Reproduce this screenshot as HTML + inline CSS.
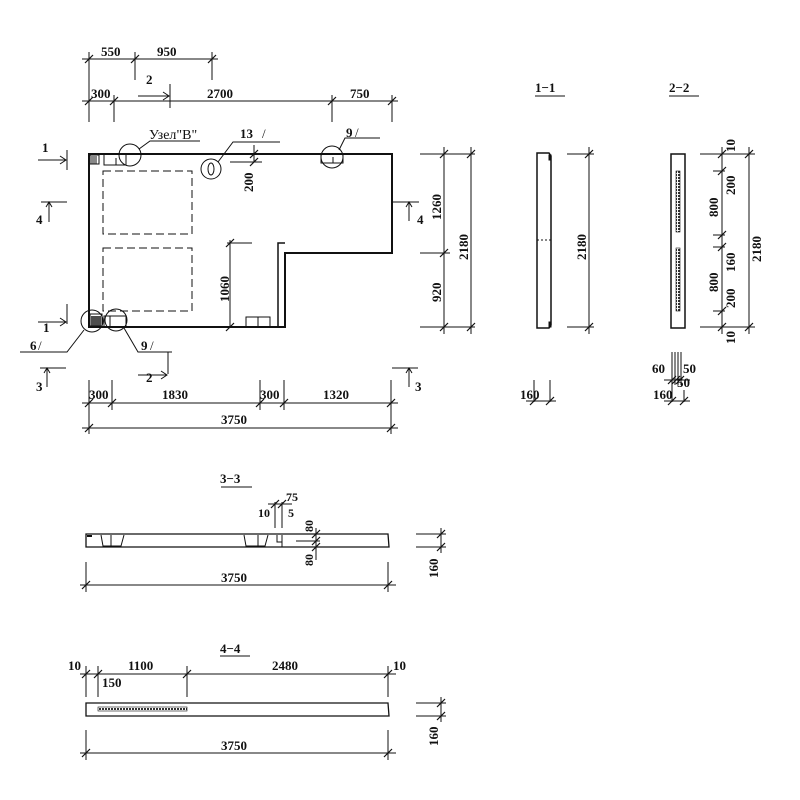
<!DOCTYPE html>
<html><head><meta charset="utf-8"><style>
html,body{margin:0;padding:0;background:#fff}
svg{display:block}
text{font-family:"Liberation Serif","DejaVu Serif",serif;font-weight:bold;font-size:13px;fill:#111}
</style></head><body>
<svg width="800" height="800" viewBox="0 0 800 800" xmlns="http://www.w3.org/2000/svg">
<defs>
<path id="t" d="M-4 4 L4 -4" stroke="#111" stroke-width="1.2"/>
<pattern id="h" width="3" height="3" patternUnits="userSpaceOnUse"><rect width="3" height="3" fill="#fff"/><rect width="2" height="2" fill="#333"/></pattern>
</defs>
<g stroke="#111" fill="none" stroke-width="1">
<path d="M89 154 H392 V253 H285 V327 H89 Z" stroke-width="2"/>
<path d="M278 327 V243 H285" stroke-width="1.5"/>
<rect x="103" y="171" width="89" height="63" stroke-dasharray="8,4"/>
<rect x="103" y="248" width="89" height="63" stroke-dasharray="8,4"/>
<rect x="90" y="155" width="9" height="9"/>
<path d="M92 156 V164 M94 156 V164 M96 156 V164"/>
<path d="M104 155 V165 H126 V155 M116 158 V165"/>
<circle cx="130" cy="155" r="11"/>
<path d="M139 149 L150 141 H200"/>
<circle cx="211" cy="169" r="10"/>
<ellipse cx="211" cy="169" rx="3" ry="6"/>
<path d="M218 162 L233 142 H280"/>
<path d="M321 155 V163 H343 V155 M333 157 V163"/>
<circle cx="332" cy="157" r="11"/>
<path d="M339 150 L345 138 H380"/>
<path d="M254 145 V162 M230 162 H262"/>
<rect x="90" y="314" width="12" height="12"/>
<path d="M92 316 V326 M94 316 V326 M96 316 V326 M98 316 V326 M100 316 V326" stroke-width="1.5"/>
<path d="M104 327 V316 H126 V327 M110 316 V326"/>
<circle cx="92" cy="321" r="11"/>
<circle cx="116" cy="320" r="11"/>
<path d="M84 330 L67 352 H20"/>
<path d="M124 328 L138 352 H172"/>
<path d="M246 327 V317 H270 V327 M258 317 V327"/>
<path d="M230 240 V327 M227 243 H252"/>
<path d="M67 150 V170 M38 160 H66 M60 156 L66 160 L60 164"/>
<path d="M67 304 V324 M38 322 H66 M60 318 L66 322 L60 326"/>
<path d="M41 202 H67 M49 202 V222 M46 207 L49 202 L52 207"/>
<path d="M393 202 H419 M409 202 V221 M406 207 L409 202 L412 207"/>
<path d="M40 368 H66 M47 368 V387 M44 373 L47 368 L50 373"/>
<path d="M392 368 H418 M409 368 V387 M406 373 L409 368 L412 373"/>
<path d="M170 84 V108 M138 96 H169 M163 92 L169 96 L163 100"/>
<path d="M168 352 V374 M138 375 H167 M161 371 L167 375 L161 379"/>
<path d="M82 59 H218 M89 52 V108 M135 52 V80 M212 52 V80"/>
<path d="M82 101 H398 M89 95 V122 M114 95 V122 M170 95 V108 M332 95 V122 M392 95 V122"/>
<path d="M420 154 H475 M420 253 H450 M420 327 H475 M444 147 V334 M471 147 V334"/>
<path d="M82 403 H398 M89 380 V434 M112 380 V410 M260 380 V410 M284 380 V410 M391 380 V434"/>
<path d="M82 428 H398"/>
<path d="M537 153 H549 L551 156 V325 L549 328 H537 Z" stroke-width="1.5"/>
<path d="M549 155 H551 V160 H549 Z M549 322 H551 V327 H549 Z" fill="#111"/>
<path d="M537 240 H551" stroke-dasharray="2,2"/>
<path d="M567 154 H594 M567 327 H594 M589 147 V334"/>
<path d="M534 380 V402 M550 380 V402 M526 401 H556"/>
<path d="M535 96 H565"/>
<rect x="671" y="154" width="14" height="174" stroke-width="1.5"/>
<rect x="676" y="171" width="4" height="61" fill="url(#h)" stroke-width="0.6"/>
<rect x="676" y="248" width="4" height="63" fill="url(#h)" stroke-width="0.6"/>
<path d="M700 154 H755 M700 327 H755 M713 171 H725 M713 235 H725 M713 247 H725 M713 311 H725"/>
<path d="M722 147 V334 M749 147 V334"/>
<path d="M669 96 H699"/>
<path d="M672 352 V402 M675 352 V385 M678 352 V385 M681 352 V385 M664 380 H690 M664 401 H690 M684 390 V402"/>
<path d="M86 534 H388 L389 547 H86 Z" stroke-width="1.3"/>
<path d="M87 536 H92" stroke-width="2"/>
<path d="M101 535 L103 546 H121 L124 535 M111 535 V546"/>
<path d="M244 535 L246 546 H265 L268 535 M258 535 V546 M277 535 V542 H282"/>
<path d="M282 535 V547"/>
<path d="M275 502 V528 M282 502 V528 M268 504 H292"/>
<path d="M296 541 H320 M316 528 V560"/>
<path d="M416 534 H446 M416 547 H446 M441 528 V553"/>
<path d="M86 562 V592 M388 562 V592 M80 585 H396"/>
<path d="M221 487 H252"/>
<path d="M86 703 H388 L389 716 H86 Z" stroke-width="1.3"/>
<rect x="98" y="707" width="89" height="4" fill="url(#h)" stroke-width="0.6"/>
<path d="M80 674 H396 M86 666 V697 M98 666 V697 M187 666 V697 M388 666 V697"/>
<path d="M416 703 H446 M416 716 H446 M441 697 V722"/>
<path d="M86 730 V760 M388 730 V760 M80 753 H396"/>
<path d="M220 656 H250"/>
</g>
<g>
<use href="#t" x="89" y="59"/><use href="#t" x="135" y="59"/><use href="#t" x="212" y="59"/>
<use href="#t" x="89" y="101"/><use href="#t" x="114" y="101"/><use href="#t" x="332" y="101"/><use href="#t" x="392" y="101"/>
<use href="#t" x="444" y="154"/><use href="#t" x="444" y="253"/><use href="#t" x="444" y="327"/>
<use href="#t" x="471" y="154"/><use href="#t" x="471" y="327"/>
<use href="#t" x="254" y="154"/><use href="#t" x="254" y="162"/>
<use href="#t" x="230" y="243"/><use href="#t" x="230" y="327"/>
<use href="#t" x="89" y="403"/><use href="#t" x="112" y="403"/><use href="#t" x="260" y="403"/><use href="#t" x="284" y="403"/><use href="#t" x="391" y="403"/>
<use href="#t" x="89" y="428"/><use href="#t" x="391" y="428"/>
<use href="#t" x="589" y="154"/><use href="#t" x="589" y="327"/>
<use href="#t" x="534" y="401"/><use href="#t" x="550" y="401"/>
<use href="#t" x="722" y="154"/><use href="#t" x="722" y="171"/><use href="#t" x="722" y="235"/><use href="#t" x="722" y="247"/><use href="#t" x="722" y="311"/><use href="#t" x="722" y="327"/>
<use href="#t" x="749" y="154"/><use href="#t" x="749" y="327"/>
<use href="#t" x="672" y="380"/><use href="#t" x="676" y="380"/><use href="#t" x="680" y="380"/>
<use href="#t" x="672" y="401"/><use href="#t" x="684" y="401"/>
<use href="#t" x="275" y="504"/><use href="#t" x="282" y="504"/>
<use href="#t" x="316" y="534"/><use href="#t" x="316" y="541"/><use href="#t" x="316" y="547"/>
<use href="#t" x="441" y="534"/><use href="#t" x="441" y="547"/>
<use href="#t" x="86" y="585"/><use href="#t" x="388" y="585"/>
<use href="#t" x="86" y="674"/><use href="#t" x="98" y="674"/><use href="#t" x="187" y="674"/><use href="#t" x="388" y="674"/>
<use href="#t" x="441" y="703"/><use href="#t" x="441" y="716"/>
<use href="#t" x="86" y="753"/><use href="#t" x="388" y="753"/>
</g>
<g>
<text x="101" y="56">550</text><text x="157" y="56">950</text>
<text x="146" y="84">2</text>
<text x="91" y="98">300</text><text x="207" y="98">2700</text><text x="350" y="98">750</text>
<text x="149" y="139" style="font-weight:normal;font-size:14px">Узел"В"</text>
<text x="240" y="138">13</text><text x="262" y="138" style="font-weight:normal">/</text>
<text x="346" y="137">9</text><text x="355" y="137" style="font-weight:normal">/</text>
<text x="42" y="152">1</text>
<text x="36" y="224">4</text>
<text x="417" y="224">4</text>
<text x="43" y="332">1</text>
<text x="30" y="350">6</text><text x="38" y="350" style="font-weight:normal">/</text>
<text x="141" y="350">9</text><text x="150" y="350" style="font-weight:normal">/</text>
<text x="36" y="391">3</text>
<text x="415" y="391">3</text>
<text x="146" y="382">2</text>
<text x="89" y="399">300</text><text x="162" y="399">1830</text><text x="260" y="399">300</text><text x="323" y="399">1320</text>
<text x="221" y="424">3750</text>
<text transform="translate(253 192) rotate(-90)">200</text>
<text transform="translate(229 302) rotate(-90)">1060</text>
<text transform="translate(441 220) rotate(-90)">1260</text>
<text transform="translate(441 302) rotate(-90)">920</text>
<text transform="translate(468 260) rotate(-90)">2180</text>
<text x="535" y="92">1−1</text>
<text x="669" y="92">2−2</text>
<text transform="translate(586 260) rotate(-90)">2180</text>
<text x="520" y="399">160</text>
<text transform="translate(735 152) rotate(-90)">10</text>
<text transform="translate(735 195) rotate(-90)">200</text>
<text transform="translate(718 217) rotate(-90)">800</text>
<text transform="translate(735 272) rotate(-90)">160</text>
<text transform="translate(761 262) rotate(-90)">2180</text>
<text transform="translate(718 292) rotate(-90)">800</text>
<text transform="translate(735 308) rotate(-90)">200</text>
<text transform="translate(735 344) rotate(-90)">10</text>
<text x="652" y="373">60</text><text x="683" y="373">50</text><text x="677" y="387">50</text>
<text x="653" y="399">160</text>
<text x="220" y="483">3−3</text>
<text x="286" y="501" style="font-size:12px">75</text>
<text x="258" y="517" style="font-size:12px">10</text>
<text x="288" y="517" style="font-size:12px">5</text>
<text transform="translate(313 532) rotate(-90)" style="font-size:12px">80</text>
<text transform="translate(313 566) rotate(-90)" style="font-size:12px">80</text>
<text transform="translate(438 578) rotate(-90)">160</text>
<text x="221" y="582">3750</text>
<text x="220" y="653">4−4</text>
<text x="68" y="670">10</text><text x="128" y="670">1100</text><text x="272" y="670">2480</text><text x="393" y="670">10</text>
<text x="102" y="687">150</text>
<text transform="translate(438 746) rotate(-90)">160</text>
<text x="221" y="750">3750</text>
</g>
</svg>
</body></html>
